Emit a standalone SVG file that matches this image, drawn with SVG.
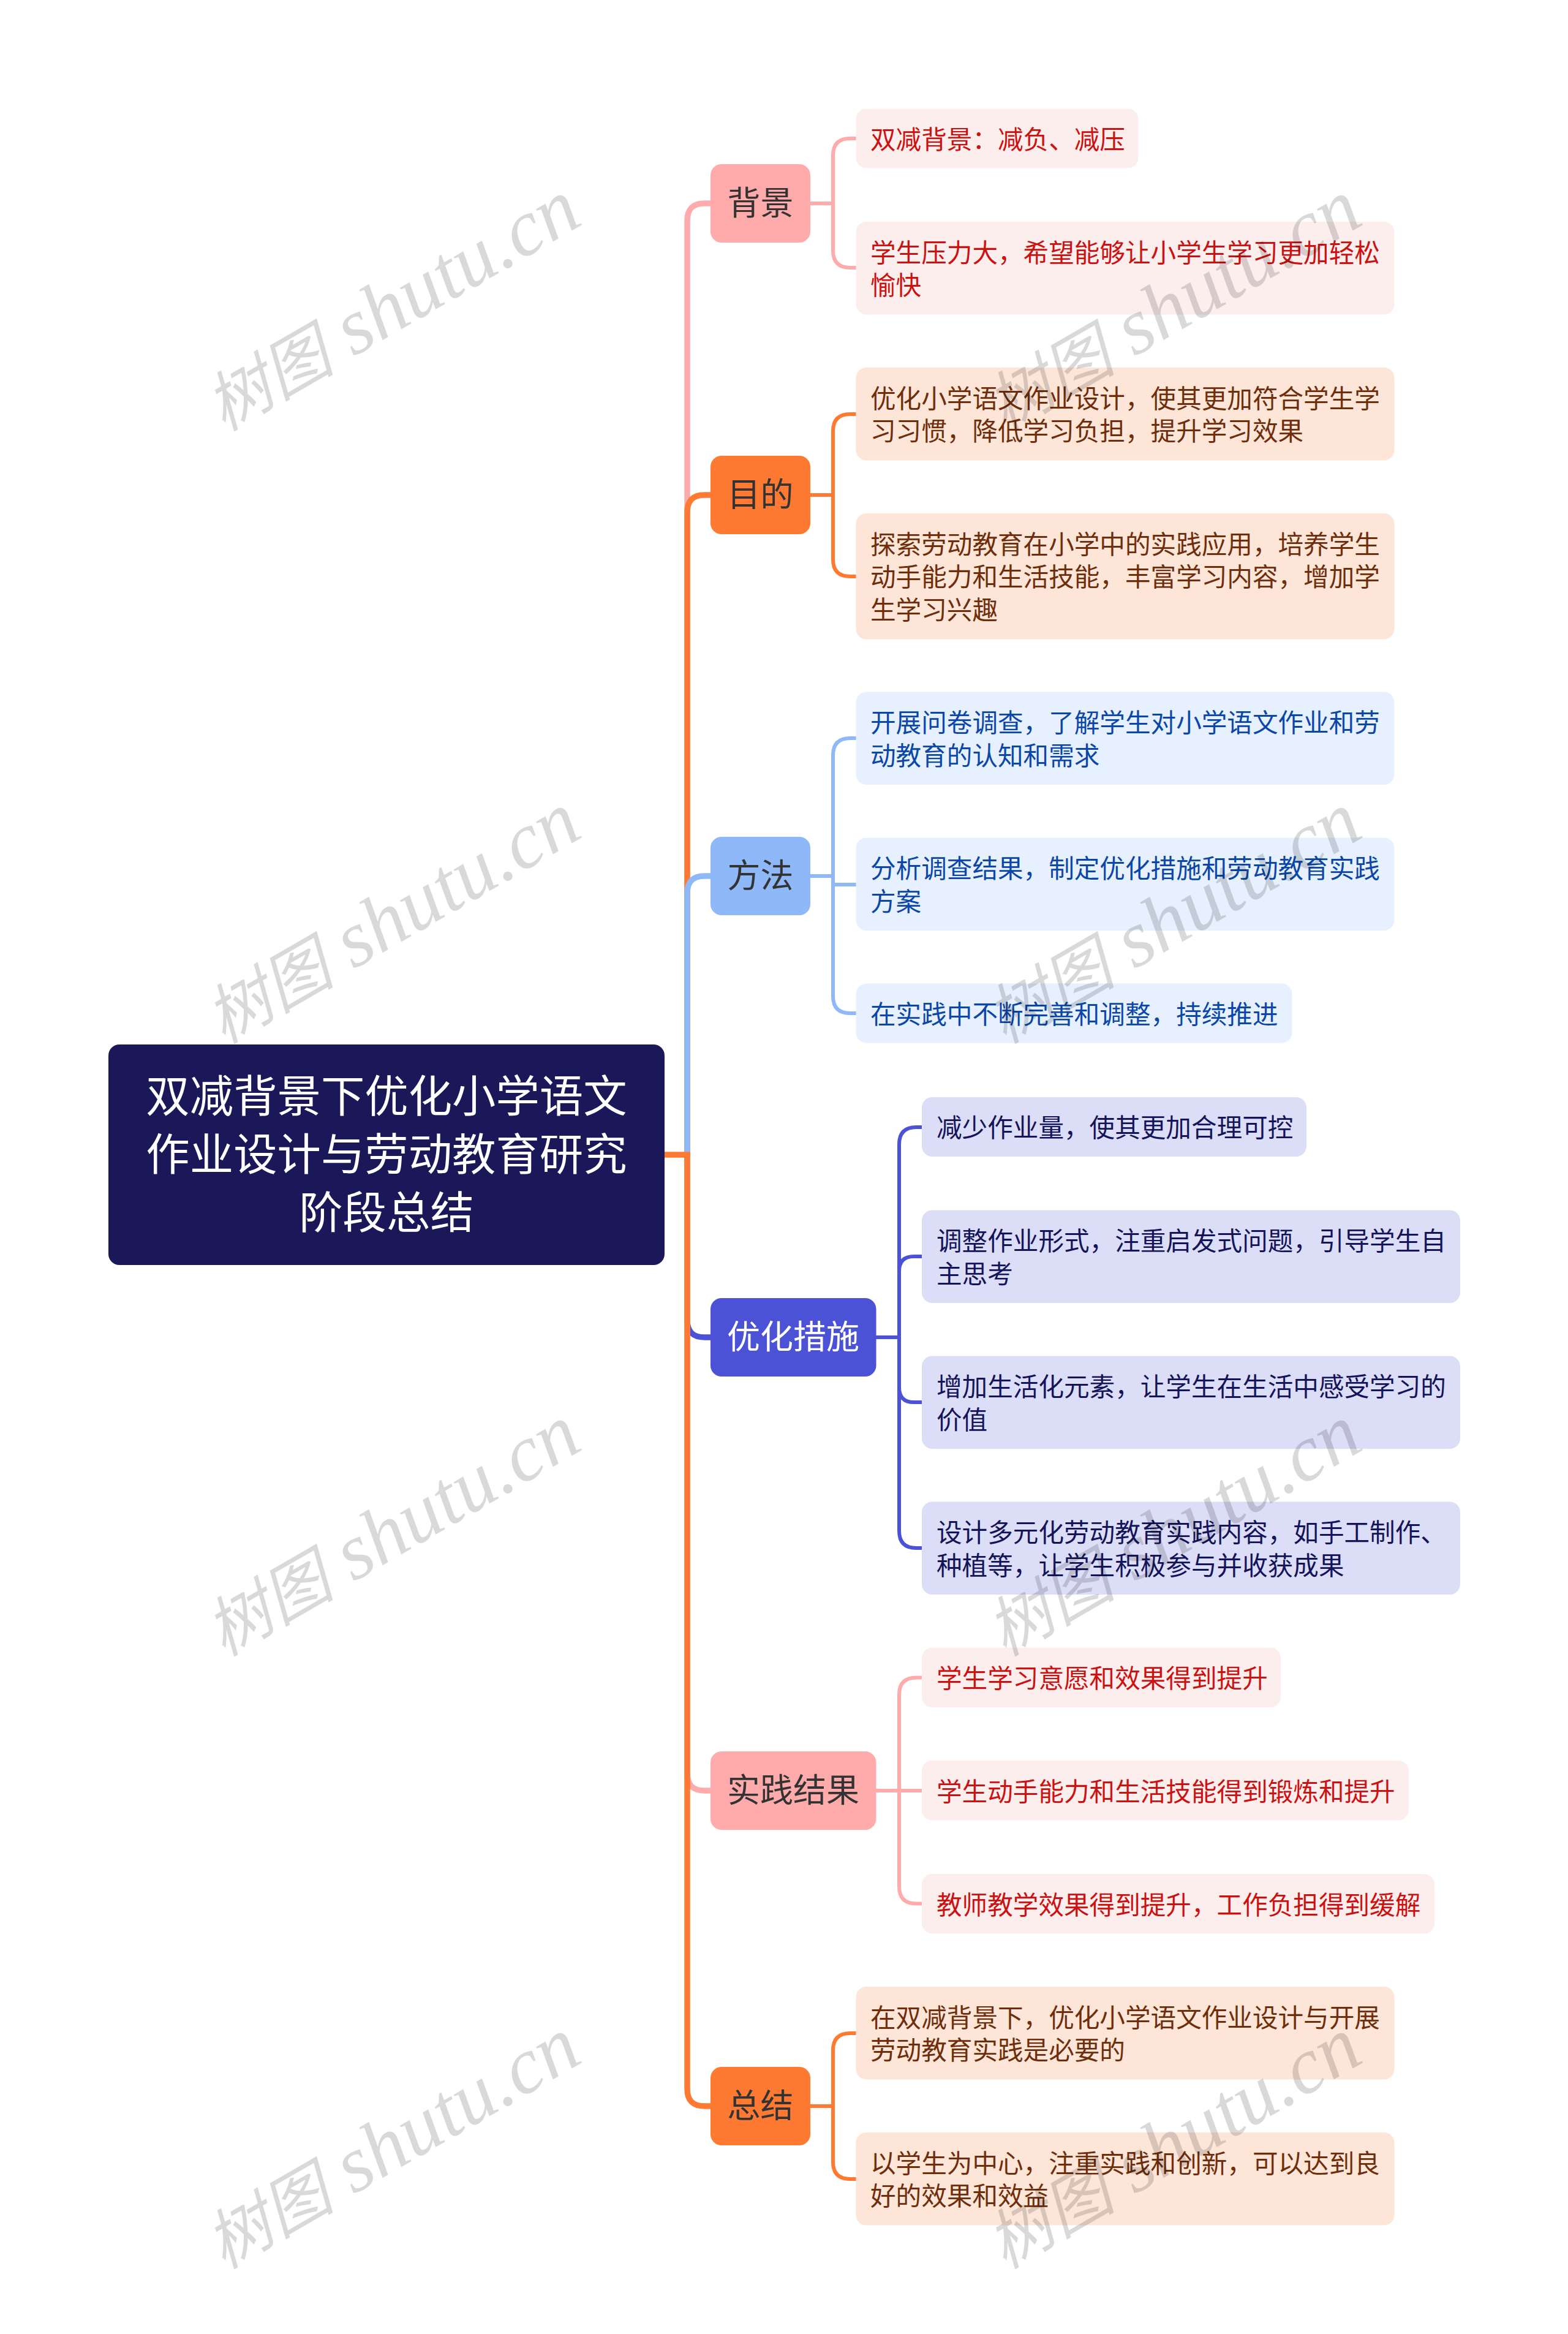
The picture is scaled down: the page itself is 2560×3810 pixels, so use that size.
<svg xmlns="http://www.w3.org/2000/svg" width="2560" height="3810" viewBox="0 0 2560 3810">
<style>
text{font-family:"Noto Sans CJK SC","Noto Sans",sans-serif}
.l{font-size:41.6px}
.n{font-size:54px;text-anchor:middle}
.r{font-size:71.4px;text-anchor:middle;fill:#fff}
.c{fill:none;stroke-linecap:butt}
.t{stroke-width:9.500}.s{stroke-width:6}
.pk{stroke:#ffabab}.or{stroke:#fe7a32}.bl{stroke:#8fb8f8}.in{stroke:#4b52d6}
.lp{fill:#fdeeee}.lo{fill:#fde5d8}.lb{fill:#e7f0fe}.li{fill:#dcddf7}
.tp{fill:#cc1111}.to{fill:#6e2e0b}.tb{fill:#0a47a8}.ti{fill:#14145a}
.d{fill:#333}
.wm{font-family:"Liberation Serif","Noto Sans CJK SC",serif;font-style:italic;font-size:130px;fill:#000;fill-opacity:.15}
.wc{font-family:"Noto Sans CJK SC",serif;font-size:106px}
</style>
<rect width="2560" height="3810" fill="#fff"/>
<g id="connectors">
<path class="c t pk" d="M1122 1885V360Q1122 332 1150 332H1160"/>
<path class="c t or" d="M1122 1885V836Q1122 808 1150 808H1160"/>
<path class="c t bl" d="M1122 1885V1458Q1122 1430 1150 1430H1160"/>
<path class="c t in" d="M1122 1885V2155Q1122 2183 1150 2183H1160"/>
<path class="c t pk" d="M1122 1885V2895Q1122 2923 1150 2923H1160"/>
<path class="c t or" d="M1085 1885H1122V3410Q1122 3438 1150 3438H1160"/>
<path class="c s pk" d="M1323 332H1360M1398 226H1388Q1360 226 1360 254V409Q1360 437 1388 437H1398"/>
<path class="c s or" d="M1323 808H1360M1398 676H1388Q1360 676 1360 704V913Q1360 941 1388 941H1398"/>
<path class="c s bl" d="M1323 1430H1360M1398 1205H1388Q1360 1205 1360 1233V1626Q1360 1654 1388 1654H1398M1360 1444H1398"/>
<path class="c s in" d="M1430 2183H1468M1505 1840H1496Q1468 1840 1468 1868V2499Q1468 2527 1496 2527H1505M1468 2075Q1468 2051 1492 2051H1505M1468 2265Q1468 2289 1492 2289H1505"/>
<path class="c s pk" d="M1430 2923H1505M1505 2738.500H1496Q1468 2738.500 1468 2766.500V3079.500Q1468 3107.500 1496 3107.500H1505"/>
<path class="c s or" d="M1323 3438H1360M1398 3319H1388Q1360 3319 1360 3347V3529Q1360 3557 1388 3557H1398"/>
</g>
<g id="root"><rect x="177" y="1705" width="908" height="360" rx="18" fill="#1a1859"/>
<text class="r" x="631" y="1815">双减背景下优化小学语文</text><text class="r" x="631" y="1910">作业设计与劳动教育研究</text><text class="r" x="631" y="2005">阶段总结</text></g>
<g id="n1"><rect x="1160" y="268" width="163" height="128" rx="18" fill="#ffabab"/><text class="n d" x="1241.500" y="351">背景</text></g>
<g id="n1a"><rect class="lp" x="1397.500" y="177.500" width="461" height="97" rx="17"/><text class="l tp" x="1421" y="243">双减背景：减负、减压</text></g>
<g id="n1b"><rect class="lp" x="1397.500" y="362" width="879" height="151.500" rx="17"/><text class="l tp" x="1421" y="427.500">学生压力大，希望能够让小学生学习更加轻松</text><text class="l tp" x="1421" y="481">愉快</text></g>
<g id="n2"><rect x="1160" y="744" width="163" height="128" rx="18" fill="#fe7a32"/><text class="n d" x="1241.500" y="827">目的</text></g>
<g id="n2a"><rect class="lo" x="1397.500" y="600" width="879" height="151.500" rx="17"/><text class="l to" x="1421" y="665.500">优化小学语文作业设计，使其更加符合学生学</text><text class="l to" x="1421" y="719">习习惯，降低学习负担，提升学习效果</text></g>
<g id="n2b"><rect class="lo" x="1397.500" y="838" width="879" height="205.500" rx="17"/><text class="l to" x="1421" y="903.500">探索劳动教育在小学中的实践应用，培养学生</text><text class="l to" x="1421" y="957">动手能力和生活技能，丰富学习内容，增加学</text><text class="l to" x="1421" y="1010.500">生学习兴趣</text></g>
<g id="n3"><rect x="1160" y="1366" width="163" height="128" rx="18" fill="#8fb8f8"/><text class="n d" x="1241.500" y="1449">方法</text></g>
<g id="n3a"><rect class="lb" x="1397.500" y="1129.500" width="879" height="151.500" rx="17"/><text class="l tb" x="1421" y="1195">开展问卷调查，了解学生对小学语文作业和劳</text><text class="l tb" x="1421" y="1248.500">动教育的认知和需求</text></g>
<g id="n3b"><rect class="lb" x="1397.500" y="1367.500" width="879" height="151.500" rx="17"/><text class="l tb" x="1421" y="1433">分析调查结果，制定优化措施和劳动教育实践</text><text class="l tb" x="1421" y="1486.500">方案</text></g>
<g id="n3c"><rect class="lb" x="1397.500" y="1605.500" width="712" height="97" rx="17"/><text class="l tb" x="1421" y="1671">在实践中不断完善和调整，持续推进</text></g>
<g id="n4"><rect x="1160" y="2119" width="270.500" height="128" rx="18" fill="#4b52d6"/><text class="n" fill="#fff" x="1295" y="2202">优化措施</text></g>
<g id="n4a"><rect class="li" x="1505" y="1791" width="628" height="97" rx="17"/><text class="l ti" x="1529" y="1856">减少作业量，使其更加合理可控</text></g>
<g id="n4b"><rect class="li" x="1505" y="1975.500" width="879" height="151.500" rx="17"/><text class="l ti" x="1529" y="2041">调整作业形式，注重启发式问题，引导学生自</text><text class="l ti" x="1529" y="2094.500">主思考</text></g>
<g id="n4c"><rect class="li" x="1505" y="2213.500" width="879" height="151.500" rx="17"/><text class="l ti" x="1529" y="2279">增加生活化元素，让学生在生活中感受学习的</text><text class="l ti" x="1529" y="2332.500">价值</text></g>
<g id="n4d"><rect class="li" x="1505" y="2451.500" width="879" height="151.500" rx="17"/><text class="l ti" x="1529" y="2517">设计多元化劳动教育实践内容，如手工制作、</text><text class="l ti" x="1529" y="2570.500">种植等，让学生积极参与并收获成果</text></g>
<g id="n5"><rect x="1160" y="2859" width="270.500" height="128" rx="18" fill="#ffabab"/><text class="n d" x="1295" y="2942">实践结果</text></g>
<g id="n5a"><rect class="lp" x="1505" y="2689.500" width="586" height="97.500" rx="17"/><text class="l tp" x="1529" y="2755">学生学习意愿和效果得到提升</text></g>
<g id="n5b"><rect class="lp" x="1505" y="2874" width="795" height="97.500" rx="17"/><text class="l tp" x="1529" y="2939.500">学生动手能力和生活技能得到锻炼和提升</text></g>
<g id="n5c"><rect class="lp" x="1505" y="3059" width="837" height="97.500" rx="17"/><text class="l tp" x="1529" y="3124.500">教师教学效果得到提升，工作负担得到缓解</text></g>
<g id="n6"><rect x="1160" y="3374" width="163" height="128" rx="18" fill="#fe7a32"/><text class="n d" x="1241.500" y="3457">总结</text></g>
<g id="n6a"><rect class="lo" x="1397.500" y="3243" width="879" height="151.500" rx="17"/><text class="l to" x="1421" y="3308.500">在双减背景下，优化小学语文作业设计与开展</text><text class="l to" x="1421" y="3362">劳动教育实践是必要的</text></g>
<g id="n6b"><rect class="lo" x="1397.500" y="3481" width="879" height="151.500" rx="17"/><text class="l to" x="1421" y="3546.500">以学生为中心，注重实践和创新，可以达到良</text><text class="l to" x="1421" y="3600">好的效果和效益</text></g>
<g id="watermarks">
<text class="wm" transform="translate(365 705) rotate(-30)"><tspan class="wc">树图</tspan> shutu.cn</text>
<text class="wm" transform="translate(1640 705) rotate(-30)"><tspan class="wc">树图</tspan> shutu.cn</text>
<text class="wm" transform="translate(365 1705) rotate(-30)"><tspan class="wc">树图</tspan> shutu.cn</text>
<text class="wm" transform="translate(1640 1705) rotate(-30)"><tspan class="wc">树图</tspan> shutu.cn</text>
<text class="wm" transform="translate(365 2705) rotate(-30)"><tspan class="wc">树图</tspan> shutu.cn</text>
<text class="wm" transform="translate(1640 2705) rotate(-30)"><tspan class="wc">树图</tspan> shutu.cn</text>
<text class="wm" transform="translate(365 3705) rotate(-30)"><tspan class="wc">树图</tspan> shutu.cn</text>
<text class="wm" transform="translate(1640 3705) rotate(-30)"><tspan class="wc">树图</tspan> shutu.cn</text>
</g>
</svg>
